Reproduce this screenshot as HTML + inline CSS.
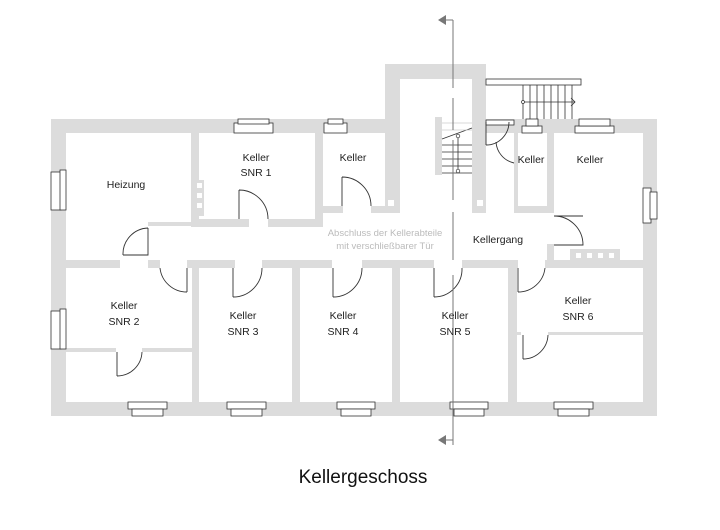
<!DOCTYPE html>
<html><head><meta charset="utf-8"><style>
html,body{margin:0;padding:0;background:#fff;width:720px;height:530px;overflow:hidden}
svg{display:block}
text{font-family:"Liberation Sans",sans-serif;font-size:10.5px;fill:#222}
</style></head><body>
<svg width="720" height="530" viewBox="0 0 720 530" xmlns="http://www.w3.org/2000/svg">
<g fill="#dcdcdc">
<!-- outer walls -->
<rect x="51" y="119" width="334" height="14"/>
<rect x="486" y="119" width="171" height="14"/>
<rect x="51" y="119" width="15" height="297"/>
<rect x="643" y="119" width="14" height="297"/>
<rect x="51" y="402" width="606" height="14"/>
<!-- stair tower -->
<rect x="385" y="64" width="101" height="15"/>
<rect x="385" y="64" width="15" height="149"/>
<rect x="472" y="64" width="14" height="149"/>
<!-- upper interior -->
<rect x="191" y="133" width="8" height="94"/>
<rect x="199" y="219" width="50" height="8"/>
<rect x="268" y="219" width="55" height="8"/>
<rect x="315" y="133" width="8" height="94"/>
<rect x="323" y="206" width="20" height="7"/>
<rect x="371" y="206" width="14" height="7"/>
<rect x="148" y="222" width="44" height="4"/>
<rect x="66" y="260" width="54" height="8"/>
<rect x="148" y="260" width="12" height="8"/>
<rect x="187" y="260" width="48" height="8"/>
<rect x="262" y="260" width="70" height="8"/>
<rect x="362" y="260" width="72" height="8"/>
<rect x="462" y="260" width="56" height="8"/>
<rect x="545" y="260" width="98" height="8"/>
<rect x="514" y="120" width="4" height="93"/>
<rect x="514" y="206" width="33" height="7"/>
<rect x="547" y="133" width="7" height="80"/>
<rect x="547" y="244" width="7" height="24"/>
<rect x="570" y="249" width="50" height="11"/>
<rect x="196" y="180" width="8" height="36"/>
<!-- lower interior -->
<rect x="192" y="268" width="7" height="134"/>
<rect x="292" y="268" width="8" height="134"/>
<rect x="392" y="268" width="8" height="134"/>
<rect x="508" y="268" width="9" height="134"/>
<rect x="66" y="348" width="50" height="4"/>
<rect x="142" y="348" width="50" height="4"/>
<rect x="517" y="332" width="4" height="3"/>
<rect x="548" y="332" width="95" height="3"/>
<rect x="435" y="117" width="7" height="58"/>
</g>
<!-- chimney squares -->
<g fill="#fff"><rect x="197" y="183" width="5" height="5"/><rect x="197" y="193" width="5" height="5"/><rect x="197" y="203" width="5" height="5"/><rect x="576" y="253" width="5" height="5"/><rect x="587" y="253" width="5" height="5"/><rect x="598" y="253" width="5" height="5"/><rect x="609" y="253" width="5" height="5"/><rect x="388" y="200" width="6" height="6"/><rect x="477" y="200" width="6" height="6"/></g>
<!-- windows -->
<g fill="#fff" stroke="#333" stroke-width="0.8">
<rect x="234" y="123" width="39" height="10"/><rect x="238" y="119" width="31" height="5"/>
<rect x="324" y="123" width="23" height="10"/><rect x="328" y="119" width="15" height="5"/>
<rect x="522" y="126" width="20" height="7"/><rect x="526" y="119" width="12" height="7"/>
<rect x="575" y="126" width="39" height="7"/><rect x="579" y="119" width="31" height="7"/>
<rect x="51" y="172" width="10" height="38"/><rect x="60" y="170" width="6" height="40"/>
<rect x="51" y="311" width="10" height="38"/><rect x="60" y="309" width="6" height="40"/>
<rect x="643" y="188" width="8" height="35"/><rect x="650" y="192" width="7" height="27"/>
<rect x="128" y="402" width="39" height="7"/><rect x="132" y="409" width="31" height="7"/>
<rect x="227" y="402" width="39" height="7"/><rect x="231" y="409" width="31" height="7"/>
<rect x="337" y="402" width="38" height="7"/><rect x="341" y="409" width="30" height="7"/>
<rect x="450" y="402" width="38" height="7"/><rect x="454" y="409" width="30" height="7"/>
<rect x="554" y="402" width="39" height="7"/><rect x="558" y="409" width="31" height="7"/>
<rect x="486" y="79" width="95" height="6"/>
<rect x="486" y="120" width="28" height="5"/>
</g>
<!-- outside stairs -->
<g stroke="#333" stroke-width="0.8" fill="none">
<path d="M523 85V119M530 85V119M537 85V119M544 85V119M551 85V119M558 85V119M565 85V119M572 85V119"/>
<path d="M523 102H575M571 98L575 102L571 106"/>
<path d="M442 145H472M442 152H472M442 159H472M442 166H472M442 173H472M442 139L472 128M458 135V171"/>
<path d="M442 123H472M442 130H472" stroke="#ccc"/>
</g>
<g fill="#fff" stroke="#333" stroke-width="0.7"><circle cx="523" cy="102" r="1.5"/><circle cx="458" cy="136" r="1.8"/><circle cx="458" cy="171" r="1.8"/></g>
<!-- doors -->
<g stroke="#333" stroke-width="0.9" fill="none">
<path d="M239 190V219M239 190A29 29 0 0 1 268 219"/>
<path d="M342 177V206M342 177A29 29 0 0 1 371 206"/>
<path d="M123 255H148V228M123 255A26 26 0 0 1 148 228"/>
<path d="M187 292V268M187 292A27 27 0 0 1 160 268"/>
<path d="M233 297V268M233 297A29 29 0 0 0 262 268"/>
<path d="M333 297V268M333 297A29 29 0 0 0 362 268"/>
<path d="M434 297V268M434 297A28 28 0 0 0 462 268"/>
<path d="M518 292V268M518 292A27 27 0 0 0 545 268"/>
<path d="M523 359V335M523 359A25 25 0 0 0 548 335"/>
<path d="M117 376V352M117 376A25 25 0 0 0 142 352"/>
<path d="M554 216H583M554 216A29 29 0 0 1 583 245H554"/>
<path d="M486 145V122M486 145A23 23 0 0 0 509 122"/>
<path d="M514 163A23 23 0 0 1 496 142"/>
</g>
<!-- section line -->
<g stroke="#777" stroke-width="1" fill="none">
<path d="M453 20V88M453 98V130M453 140V200M453 212V260M453 275V440M453 440V445"/>
<path d="M453 20H446M453 440H446"/>
</g>
<g fill="#777"><path d="M438 20L446 15V25Z"/><path d="M438 440L446 435V445Z"/></g>
<!-- labels -->
<g text-anchor="middle">
<text x="126" y="188">Heizung</text>
<text x="256" y="161">Keller</text><text x="256" y="176">SNR 1</text>
<text x="353" y="161">Keller</text>
<text x="531" y="163">Keller</text>
<text x="590" y="163">Keller</text>
<text x="498" y="243">Kellergang</text>
<text x="385" y="236" style="fill:#bbb;font-size:9.5px">Abschluss der Kellerabteile</text>
<text x="385" y="249" style="fill:#bbb;font-size:9.5px">mit verschließbarer Tür</text>
<text x="124" y="309">Keller</text><text x="124" y="325">SNR 2</text>
<text x="243" y="319">Keller</text><text x="243" y="335">SNR 3</text>
<text x="343" y="319">Keller</text><text x="343" y="335">SNR 4</text>
<text x="455" y="319">Keller</text><text x="455" y="335">SNR 5</text>
<text x="578" y="304">Keller</text><text x="578" y="320">SNR 6</text>
<text x="363" y="483" style="font-size:19px;fill:#111">Kellergeschoss</text>
</g>
</svg>
</body></html>
